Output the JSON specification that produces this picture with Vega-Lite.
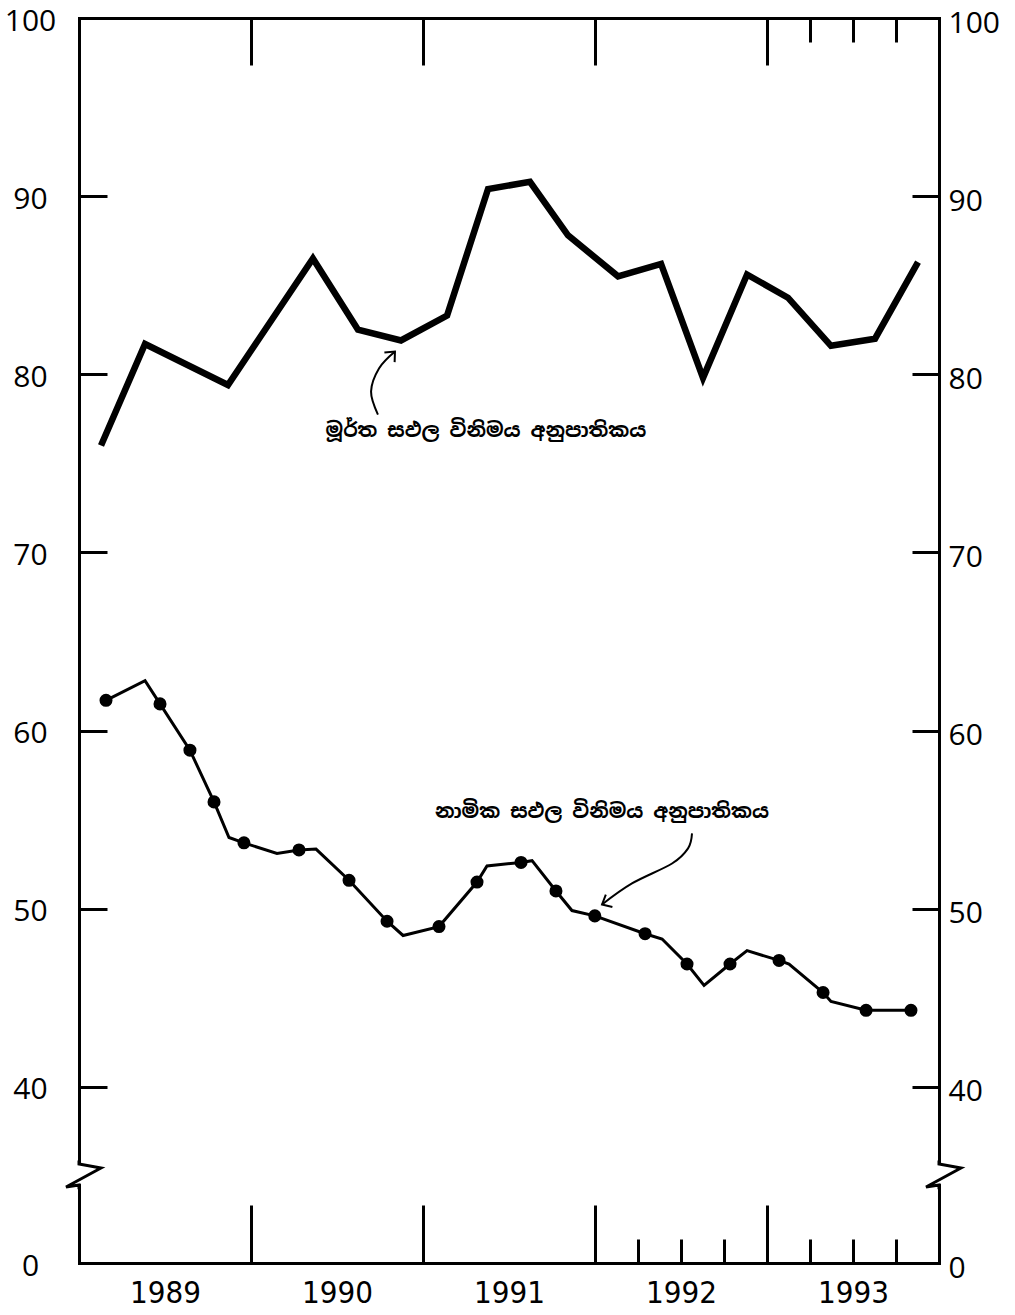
{
  "$schema": "https://vega.github.io/schema/vega-lite/v6.json",
  "width": 860,
  "height": 1245,
  "autosize": "none",
  "padding": {"left": 79, "top": 18, "right": 76, "bottom": 52},
  "background": "white",
  "view": {"stroke": null},
  "config": {
    "axis": {"grid": false, "domain": false, "tickColor": "black", "tickWidth": 3, "tickCap": "butt", "labelColor": "black", "domainColor": "black", "domainWidth": 3, "domainCap": "square"}
  },
  "datasets": {
    "real": [
      {"t": 1989.128, "v": 76.0},
      {"t": 1989.384, "v": 81.7},
      {"t": 1989.866, "v": 79.4},
      {"t": 1990.360, "v": 86.5},
      {"t": 1990.622, "v": 82.5},
      {"t": 1990.872, "v": 81.9},
      {"t": 1991.140, "v": 83.3},
      {"t": 1991.378, "v": 90.4},
      {"t": 1991.622, "v": 90.8},
      {"t": 1991.843, "v": 87.8},
      {"t": 1992.134, "v": 85.5},
      {"t": 1992.384, "v": 86.2},
      {"t": 1992.628, "v": 79.8},
      {"t": 1992.884, "v": 85.6},
      {"t": 1993.122, "v": 84.3},
      {"t": 1993.372, "v": 81.6},
      {"t": 1993.628, "v": 82.0},
      {"t": 1993.878, "v": 86.3}
    ],
    "nominal": [
      {"t": 1989.157, "v": 61.7, "marked": true},
      {"t": 1989.384, "v": 62.8, "marked": false},
      {"t": 1989.471, "v": 61.5, "marked": true},
      {"t": 1989.645, "v": 58.9, "marked": true},
      {"t": 1989.785, "v": 56.0, "marked": true},
      {"t": 1989.872, "v": 54.0, "marked": false},
      {"t": 1989.959, "v": 53.7, "marked": true},
      {"t": 1990.151, "v": 53.1, "marked": false},
      {"t": 1990.279, "v": 53.3, "marked": true},
      {"t": 1990.378, "v": 53.35, "marked": false},
      {"t": 1990.570, "v": 51.6, "marked": true},
      {"t": 1990.791, "v": 49.3, "marked": true},
      {"t": 1990.884, "v": 48.5, "marked": false},
      {"t": 1991.093, "v": 49.0, "marked": true},
      {"t": 1991.314, "v": 51.5, "marked": true},
      {"t": 1991.372, "v": 52.4, "marked": false},
      {"t": 1991.570, "v": 52.6, "marked": true},
      {"t": 1991.634, "v": 52.7, "marked": false},
      {"t": 1991.773, "v": 51.0, "marked": true},
      {"t": 1991.866, "v": 49.9, "marked": false},
      {"t": 1991.999, "v": 49.6, "marked": true},
      {"t": 1992.291, "v": 48.6, "marked": true},
      {"t": 1992.390, "v": 48.3, "marked": false},
      {"t": 1992.535, "v": 46.9, "marked": true},
      {"t": 1992.634, "v": 45.7, "marked": false},
      {"t": 1992.785, "v": 46.9, "marked": true},
      {"t": 1992.884, "v": 47.65, "marked": false},
      {"t": 1993.070, "v": 47.1, "marked": true},
      {"t": 1993.128, "v": 46.9, "marked": false},
      {"t": 1993.326, "v": 45.3, "marked": true},
      {"t": 1993.372, "v": 44.8, "marked": false},
      {"t": 1993.576, "v": 44.3, "marked": true},
      {"t": 1993.837, "v": 44.3, "marked": true}
    ],
    "labels": [
      {"t": 1991.366, "v": 76.84, "label": "මූර්ත සඵල විනිමය අනුපාතිකය"},
      {"t": 1992.041, "v": 55.41, "label": "නාමික සඵල විනිමය අනුපාතිකය"}
    ],
    "arrow1": [
      {"i": 0, "t": 1990.738, "v": 77.74},
      {"i": 1, "t": 1990.698, "v": 79.03},
      {"i": 2, "t": 1990.744, "v": 80.33},
      {"i": 3, "t": 1990.837, "v": 81.28}
    ],
    "arrow2": [
      {"i": 0, "t": 1992.564, "v": 54.23},
      {"i": 1, "t": 1992.541, "v": 53.39},
      {"i": 2, "t": 1992.448, "v": 52.54},
      {"i": 3, "t": 1992.215, "v": 51.42},
      {"i": 4, "t": 1992.041, "v": 50.24}
    ],
    "breaks": [
      {"t": 1989, "v": 35},
      {"t": 1994, "v": 35}
    ]
  },
  "resolve": {"axis": {"x": "independent", "y": "independent"}},
  "layer": [
    {
      "data": {"name": "real"},
      "mark": {"type": "line", "color": "black", "strokeWidth": 6.5, "strokeJoin": "miter"},
      "encoding": {
        "x": {"field": "t", "type": "quantitative", "scale": {"domain": [1989, 1994], "nice": false, "zero": false},
          "axis": {"orient": "bottom", "values": [1989.5, 1990.5, 1991.5, 1992.5, 1993.5], "labelExpr": "floor(datum.value)", "ticks": false, "domain": true, "title": null, "labelFont": "DejaVu Sans Condensed, Roboto Condensed, Roboto, sans-serif", "labelFontSize": 31, "labelPadding": 15, "labelBaseline": "top"}},
        "y": {"field": "v", "type": "quantitative", "scale": {"domain": [0, 35, 100], "range": [1245, 1158, 0], "nice": false, "zero": false},
          "axis": {"orient": "left", "values": [0, 40, 50, 60, 70, 80, 90, 100], "tickSize": -28, "labelPadding": 77, "labelAlign": "center", "labelBaseline": "middle", "labelOffset": 3, "labelFont": "Open Sans", "labelFontSize": 30, "domain": true, "title": null}}
      }
    },
    {
      "data": {"name": "nominal"},
      "mark": {"type": "line", "color": "black", "strokeWidth": 3, "strokeJoin": "miter"},
      "encoding": {
        "x": {"field": "t", "type": "quantitative", "axis": {"orient": "bottom", "values": [1990, 1991, 1992, 1993], "labels": false, "tickSize": -58, "title": null}},
        "y": {"field": "v", "type": "quantitative",
          "axis": {"orient": "right", "values": [0, 40, 50, 60, 70, 80, 90, 100], "tickSize": -27, "labelPadding": 36, "labelAlign": "left", "labelBaseline": "middle", "labelOffset": 5, "labelFont": "Open Sans", "labelFontSize": 30, "domain": true, "title": null}}
      }
    },
    {
      "data": {"name": "nominal"},
      "transform": [{"filter": "datum.marked"}],
      "mark": {"type": "point", "filled": true, "color": "black", "size": 170, "opacity": 1},
      "encoding": {
        "x": {"field": "t", "type": "quantitative", "axis": {"orient": "bottom", "values": [1992.25, 1992.5, 1992.75, 1993.25, 1993.5, 1993.75], "labels": false, "tickSize": -24, "title": null}},
        "y": {"field": "v", "type": "quantitative", "axis": null}
      }
    },
    {
      "data": {"name": "labels"},
      "mark": {"type": "text", "font": "Noto Sans Sinhala, Noto Sans, sans-serif", "fontSize": 20, "fontWeight": "bold", "color": "black", "align": "center", "baseline": "middle"},
      "encoding": {
        "x": {"field": "t", "type": "quantitative", "axis": {"orient": "top", "values": [1990, 1991, 1992, 1993], "labels": false, "tickSize": -47, "domain": true, "title": null}},
        "y": {"field": "v", "type": "quantitative", "axis": null},
        "text": {"field": "label"}
      }
    },
    {
      "data": {"name": "arrow1"},
      "mark": {"type": "line", "color": "black", "strokeWidth": 2, "interpolate": "cardinal"},
      "encoding": {
        "x": {"field": "t", "type": "quantitative", "axis": {"orient": "top", "values": [1993.25, 1993.5, 1993.75], "labels": false, "tickSize": -24, "title": null}},
        "y": {"field": "v", "type": "quantitative", "axis": null},
        "order": {"field": "i"}
      }
    },
    {
      "data": {"name": "arrow1"},
      "transform": [{"filter": "datum.i == 3"}],
      "mark": {"type": "point", "shape": "M -0.7 0.8 L 0 0 L 0.7 0.8", "filled": false, "color": "black", "strokeWidth": 2, "size": 400, "angle": 43, "opacity": 1},
      "encoding": {
        "x": {"field": "t", "type": "quantitative", "axis": null},
        "y": {"field": "v", "type": "quantitative", "axis": null}
      }
    },
    {
      "data": {"name": "arrow2"},
      "mark": {"type": "line", "color": "black", "strokeWidth": 2, "interpolate": "cardinal"},
      "encoding": {
        "x": {"field": "t", "type": "quantitative", "axis": null},
        "y": {"field": "v", "type": "quantitative", "axis": null},
        "order": {"field": "i"}
      }
    },
    {
      "data": {"name": "arrow2"},
      "transform": [{"filter": "datum.i == 4"}],
      "mark": {"type": "point", "shape": "M -0.7 0.8 L 0 0 L 0.7 0.8", "filled": false, "color": "black", "strokeWidth": 2, "size": 400, "angle": 242, "opacity": 1},
      "encoding": {
        "x": {"field": "t", "type": "quantitative", "axis": null},
        "y": {"field": "v", "type": "quantitative", "axis": null}
      }
    },
    {
      "data": {"name": "breaks"},
      "mark": {"type": "point", "shape": "M -0.3 -0.92 L 0.3 -0.92 L 0.3 0.67 L -0.3 0.67 Z", "filled": true, "color": "white", "size": 576, "opacity": 1, "strokeWidth": 0},
      "encoding": {
        "x": {"field": "t", "type": "quantitative", "axis": null},
        "y": {"field": "v", "type": "quantitative", "axis": null}
      }
    },
    {
      "data": {"name": "breaks"},
      "mark": {"type": "point", "shape": "M 0 -1.3 L 0 -1 L 1.83 -0.67 L -1.08 0.92 L 0 0.75 L 0 1.1", "filled": false, "color": "black", "strokeWidth": 3, "size": 576, "opacity": 1},
      "encoding": {
        "x": {"field": "t", "type": "quantitative", "axis": null},
        "y": {"field": "v", "type": "quantitative", "axis": null}
      }
    }
  ]
}
